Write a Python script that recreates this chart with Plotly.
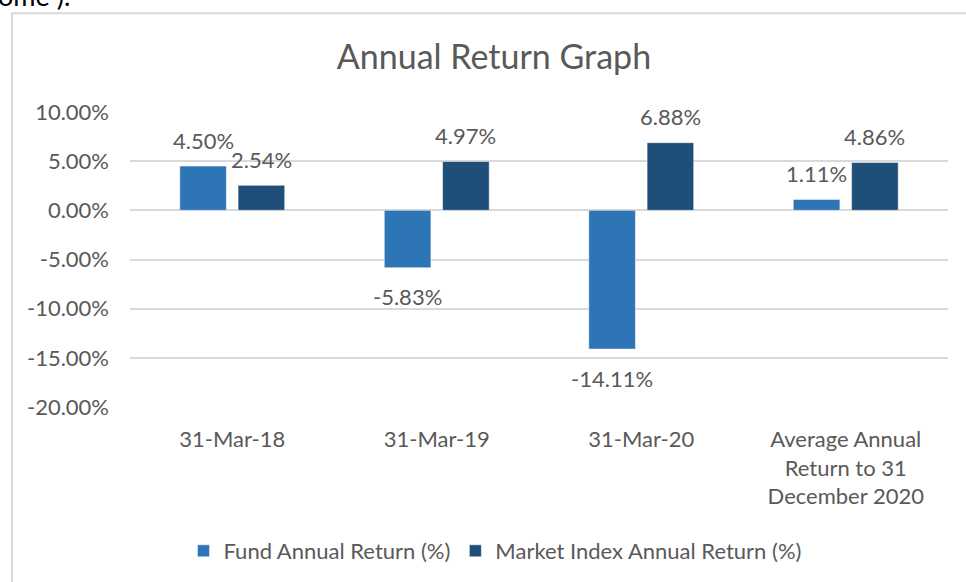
import plotly.graph_objects as go

categories = ["31-Mar-18", "31-Mar-19", "31-Mar-20",
              "Average Annual<br>Return to 31<br>December 2020"]
fund_returns = [4.50, -5.83, -14.11, 1.11]
market_returns = [2.54, 4.97, 6.88, 4.86]
fund_name = "Fund Annual Return (%)"
market_name = "Market Index Annual Return (%)"
title_text = "Annual Return Graph"
y_tick_values = [10, 5, 0, -5, -10, -15, -20]
y_tick_labels = ["10.00%", "5.00%", "0.00%", "-5.00%", "-10.00%", "-15.00%", "-20.00%"]
page_fragment = "ome )."

FONT = "Lato, 'Open Sans', sans-serif"
TXT = "#595959"
FS = 22

W, H = 966, 582
L, R, T, B = 130, 18, 112, 174
pw = W - L - R
ph = H - T - B


def px_to_paper_x(px):
    return (px - L) / pw


def px_to_paper_y(py):
    return (H - B - py) / ph


fig = go.Figure()
fig.add_trace(go.Bar(
    x=categories, y=fund_returns, name=fund_name,
    marker=dict(color="#2E75B6", line=dict(color="#ffffff", width=0.5)),
))
fig.add_trace(go.Bar(
    x=categories, y=market_returns, name=market_name,
    marker=dict(color="#1F4E79", line=dict(color="#ffffff", width=0.5)),
))

annotations = []
for values, xs in ((fund_returns, -29), (market_returns, 29)):
    for cat, v in zip(categories, values):
        annotations.append(dict(
            x=cat, y=v, xref="x", yref="y", text=f"{v:.2f}%", showarrow=False,
            xshift=xs, yshift=(26 if v >= 0 else -29), yanchor="middle",
            font=dict(size=FS, color=TXT, family=FONT)))

annotations.append(dict(
    text=page_fragment, xref="paper", yref="paper",
    x=px_to_paper_x(-4), xanchor="left",
    y=px_to_paper_y(-5), yanchor="middle", showarrow=False,
    font=dict(size=27, color="#000000", family=FONT)))

fig.update_layout(
    width=W, height=H,
    margin=dict(l=L, r=R, t=T, b=B),
    paper_bgcolor="white", plot_bgcolor="white",
    font=dict(family=FONT, color=TXT, size=FS),
    barmode="group", bargap=0.43, bargroupgap=0.2,
    title=dict(text=title_text, font=dict(size=34, color=TXT, family=FONT),
               xref="container", x=494 / W, xanchor="center",
               yref="container", y=1 - 57 / H, yanchor="middle"),
    legend=dict(orientation="h", xref="paper", x=px_to_paper_x(495), xanchor="center",
                yref="paper", y=px_to_paper_y(551), yanchor="middle",
                font=dict(size=FS, color=TXT, family=FONT), traceorder="normal",
                itemwidth=30),
    xaxis=dict(showgrid=False, showline=False, ticks="", ticklabelstandoff=17,
               tickfont=dict(size=FS, color=TXT, family=FONT)),
    yaxis=dict(range=[-20, 10], tickmode="array", tickvals=y_tick_values,
               ticktext=y_tick_labels,
               showgrid=True, gridcolor="#d9d9d9", gridwidth=2,
               zeroline=True, zerolinecolor="#d9d9d9", zerolinewidth=2,
               showline=False, ticks="", ticklabelstandoff=20,
               tickfont=dict(size=FS, color=TXT, family=FONT)),
    shapes=[dict(type="rect", xref="paper", yref="paper",
                 x0=px_to_paper_x(12), x1=px_to_paper_x(1000),
                 y0=px_to_paper_y(620), y1=px_to_paper_y(13),
                 line=dict(color="#d9d9d9", width=2), fillcolor="rgba(0,0,0,0)",
                 layer="below")],
    annotations=annotations,
)

fig.write_html("out.html", config={"displayModeBar": False},
               post_script="document.body.style.margin='0px';")
